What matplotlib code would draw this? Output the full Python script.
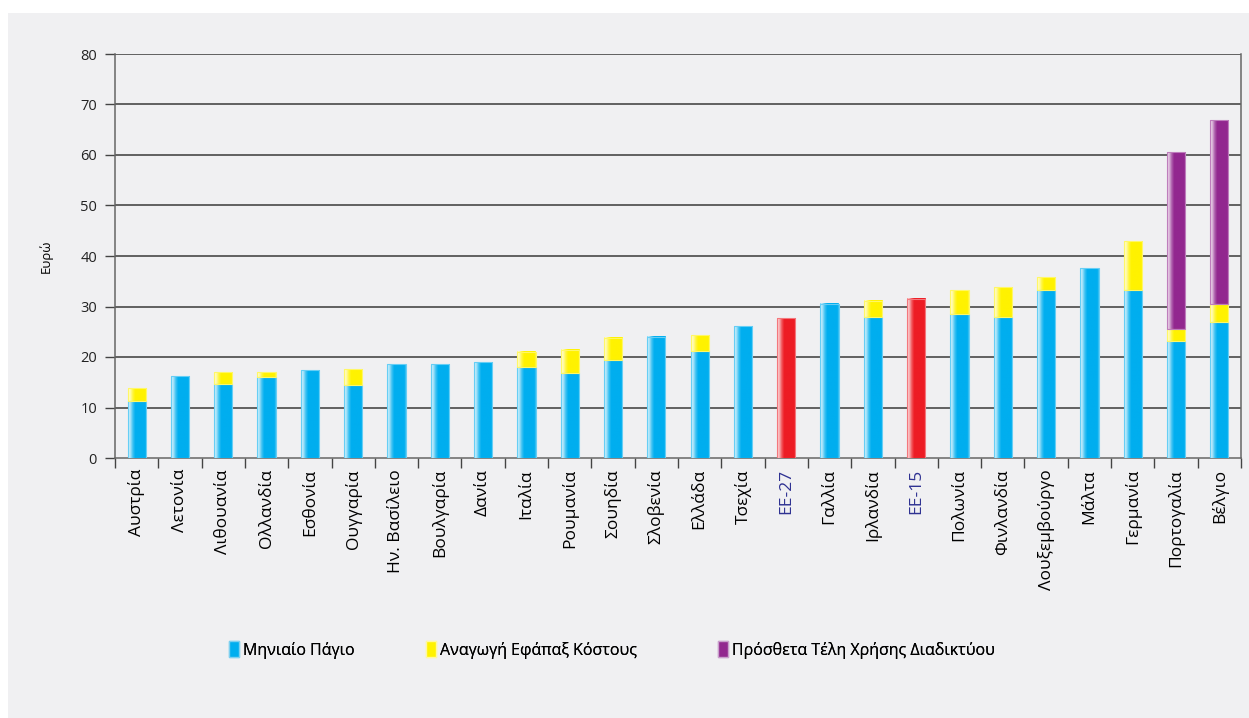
import numpy as np
import matplotlib
matplotlib.use("Agg")
import matplotlib.pyplot as plt
from matplotlib.patches import Rectangle, Patch
from matplotlib.colors import to_rgb

categories = ["Αυστρία", "Λετονία", "Λιθουανία", "Ολλανδία", "Εσθονία", "Ουγγαρία",
              "Ην. Βασίλειο", "Βουλγαρία", "Δανία", "Ιταλία", "Ρουμανία", "Σουηδία",
              "Σλοβενία", "Ελλάδα", "Τσεχία", "ΕΕ-27", "Γαλλία", "Ιρλανδία", "ΕΕ-15",
              "Πολωνία", "Φινλανδία", "Λουξεμβούργο", "Μάλτα", "Γερμανία", "Πορτογαλία", "Βέλγιο"]
# Μηνιαίο Πάγιο (0 for EU averages)
monthly = [11.35, 16.2, 14.65, 16.1, 17.35, 14.45, 18.6, 18.6, 19.0, 18.0, 16.8, 19.4,
           24.0, 21.2, 26.1, 0, 30.5, 27.9, 0, 28.6, 28.0, 33.3, 37.6, 33.3, 23.2, 26.9]
# Αναγωγή Εφάπαξ Κόστους
oneoff = [2.55, 0, 2.35, 0.9, 0, 3.15, 0, 0, 0, 3.0, 4.6, 4.4,
          0, 3.15, 0, 0, 0, 3.2, 0, 4.6, 5.8, 2.5, 0, 9.7, 2.4, 3.65]
# Πρόσθετα Τέλη Χρήσης Διαδικτύου
extra = [0, 0, 0, 0, 0, 0, 0, 0, 0, 0, 0, 0,
         0, 0, 0, 0, 0, 0, 0, 0, 0, 0, 0, 0, 34.9, 36.35]
# EU averages
eu_avg = [0, 0, 0, 0, 0, 0, 0, 0, 0, 0, 0, 0,
          0, 0, 0, 27.7, 0, 0, 31.5, 0, 0, 0, 0, 0, 0, 0]

series_labels = ["Μηνιαίο Πάγιο", "Αναγωγή Εφάπαξ Κόστους", "Πρόσθετα Τέλη Χρήσης Διαδικτύου"]
y_ticks = [0, 10, 20, 30, 40, 50, 60, 70, 80]

BLUE, YELLOW, PURPLE, RED = "#00aeef", "#fff200", "#92278f", "#ed1c24"
EU_LABEL = "#2e3192"
PANEL = "#f0f0f2"

plt.rcParams['font.family'] = ['Open Sans', 'DejaVu Sans']

W, H = 1249, 718
fig = plt.figure(figsize=(W / 100, H / 100), dpi=100)
fig.patch.set_facecolor("white")
fig.patches.append(Rectangle((8 / W, 0), (W - 8) / W, (H - 13) / H,
                             transform=fig.transFigure, facecolor=PANEL,
                             edgecolor="none", zorder=-10))

ax = fig.add_axes([115 / W, (H - 458) / H, (1241 - 115) / W, (458 - 54) / H])
ax.set_facecolor(PANEL)
ax.patch.set_alpha(0)

x = np.arange(len(categories))
bw = 0.42
monthly_a = np.array(monthly, float)
oneoff_a = np.array(oneoff, float)
extra_a = np.array(extra, float)
eu_a = np.array(eu_avg, float)

b1 = ax.bar(x, monthly_a, bw, color=BLUE, zorder=3, label=series_labels[0])
b2 = ax.bar(x, oneoff_a, bw, bottom=monthly_a, color=YELLOW, zorder=3, label=series_labels[1])
b3 = ax.bar(x, extra_a, bw, bottom=monthly_a + oneoff_a, color=PURPLE, zorder=3, label=series_labels[2])
b4 = ax.bar(x, eu_a, bw, color=RED, zorder=3)

# cylinder-like shading
tprof = np.linspace(0, 1, 60)
fprof = np.interp(tprof, [0, 0.06, 0.14, 0.25, 0.38, 0.93, 1.0],
                  [0.45, 0.8, 0.6, 0.25, 0.0, 0.0, 0.25])

def shade(bars, color):
    c = np.array(to_rgb(color))
    img = c[None, :] * (1 - fprof[:, None]) + fprof[:, None]
    img = img[None, :, :]
    for b in bars:
        h = b.get_height()
        if h <= 0:
            continue
        x0, y0, w = b.get_x(), b.get_y(), b.get_width()
        ax.imshow(img, extent=[x0, x0 + w, y0, y0 + h], aspect='auto',
                  interpolation='bilinear', zorder=3.5)
        b.set_edgecolor(tuple(c * 0.6 + 0.4))
        b.set_linewidth(0.8)
        b.set_zorder(3.6)
        b.set_facecolor("none")

shade(b1, BLUE)
shade(b2, YELLOW)
shade(b3, PURPLE)
shade(b4, RED)

ax.set_xlim(-0.5, len(categories) - 0.5)
ax.set_ylim(0, 80)
ax.set_yticks(y_ticks)
ax.set_yticklabels([str(v) for v in y_ticks], fontsize=10.5, color="#222")
ax.tick_params(axis='y', length=7, width=1, color="#444", pad=6)
for v in y_ticks[1:]:
    ax.axhline(v, color="#3a3a3a", lw=1.1, zorder=1)

ax.set_xticks(x)
ax.set_xticklabels(categories, rotation=90, fontsize=12.5)
ax.tick_params(axis='x', length=0, pad=8)
for lab, cat in zip(ax.get_xticklabels(), categories):
    if cat.startswith("ΕΕ"):
        lab.set_color(EU_LABEL)
ax.set_xticks(np.arange(len(categories) + 1) - 0.5, minor=True)
ax.tick_params(axis='x', which='minor', length=7, width=1, color="#444")

for s in ["left", "bottom", "right"]:
    ax.spines[s].set_color("#666")
    ax.spines[s].set_linewidth(1.1)
ax.spines["top"].set_visible(False)

ax.set_ylabel("Ευρώ", fontsize=9.5)
ax.yaxis.set_label_coords(-62 / (1241 - 115), 0.5)

handles = [Patch(facecolor=BLUE, edgecolor="#7fd0f0"),
           Patch(facecolor=YELLOW, edgecolor="#fff8a0"),
           Patch(facecolor=PURPLE, edgecolor="#c9a0cc")]
leg_x = [229, 426, 718]
for hnd, lbl, lx in zip(handles, series_labels, leg_x):
    lg = fig.legend([hnd], [lbl], loc="center left", bbox_to_anchor=(lx / W, 1 - 650 / H),
                    frameon=False, fontsize=11.5, handlelength=0.6, handleheight=1.1,
                    handletextpad=0.3, borderpad=0, borderaxespad=0)
    fig.add_artist(lg)

fig.savefig("out.png", dpi=100, facecolor="white")
